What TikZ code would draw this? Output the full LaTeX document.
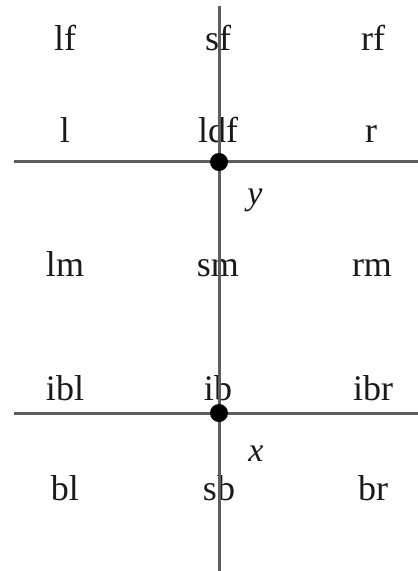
\documentclass[tikz,border=0pt]{standalone}
\usepackage{fontspec}
\setmainfont{Liberation Serif}
\usepackage{xcolor}
\definecolor{AxisGray}{HTML}{5E5E5E}
\definecolor{TextDark}{HTML}{1A1A1A}

\begin{document}
\begin{tikzpicture}[
	x=1pt,
	y=-1pt,
	% region label style
	region/.style={
		anchor=base,
		inner sep=0pt,
		text=TextDark,
		font=\fontsize{36}{40}\selectfont
	},
	axis label/.style={
		region,
		font=\fontsize{34}{40}\selectfont\itshape
	},
	% axis line style
	axis/.style={
		draw=AxisGray,
		line width=3pt
	},
	origin/.style={
		circle,
		fill=black,
		inner sep=0pt,
		minimum size=18pt
	}
	]
	\useasboundingbox (0,0) rectangle (418,571);
	
	% ================= REGIONS =================
	\node[region] (lf) at (65,50) {lf};
	\node[region] (sf) at (218,50) {sf};
	\node[region] (rf) at (373,50) {rf};
	
	\node[region] (l) at (65,142) {l};
	\node[region] (ldf) at (218,142) {ldf};
	\node[region] (r) at (371,142) {r};
	
	\node[region] (lm) at (65,276) {lm};
	\node[region] (sm) at (218,276) {sm};
	\node[region] (rm) at (372,276) {rm};
	
	\node[region] (ibl) at (65,400) {ibl};
	\node[region] (ib) at (218,400) {ib};
	\node[region] (ibr) at (373,400) {ibr};
	
	\node[region] (bl) at (65,500) {bl};
	\node[region] (sb) at (219,500) {sb};
	\node[region] (br) at (373,500) {br};
	
	% ================= AXES =================
	\coordinate (top) at (219,6);
	\coordinate (bottom) at (219,571);
	\coordinate (yleft) at (14,161);
	\coordinate (yright) at (418,161);
	\coordinate (xleft) at (14,413);
	\coordinate (xright) at (418,413);
	
	\draw[axis] (top) -- (bottom);
	\draw[axis] (yleft) -- (yright);
	\draw[axis] (xleft) -- (xright);
	
	% ================= ORIGINS =================
	\node[origin] (ydot) at (219,162) {};
	\node[origin] (xdot) at (219,413) {};
	
	\node[axis label] (ylab) at (255,204) {y};
	\node[axis label] (xlab) at (256,461) {x};
	
\end{tikzpicture}
\end{document}
